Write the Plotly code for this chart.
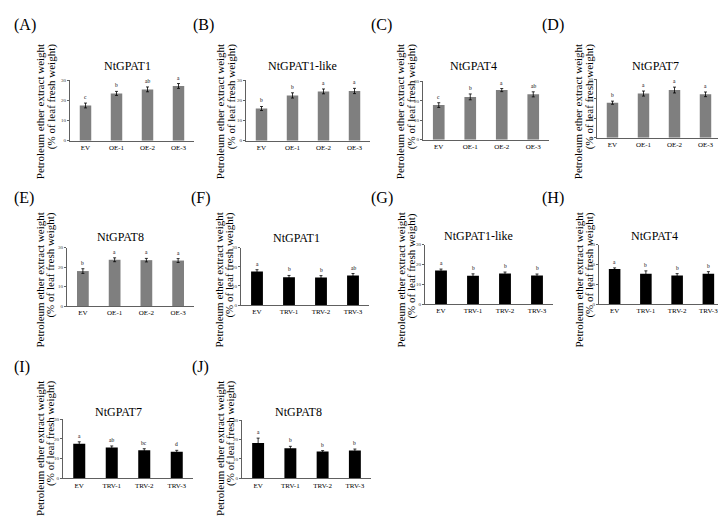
import plotly.graph_objects as go

W, H = 726, 519

oe_groups = ["EV", "OE-1", "OE-2", "OE-3"]
trv_groups = ["EV", "TRV-1", "TRV-2", "TRV-3"]

# overexpression lines (grey bars)
gpat1_oe = [17.5, 23.5, 25.5, 27.2]
gpat1_oe_err = [1.2, 1.0, 1.2, 1.2]
gpat1_oe_sig = ["c", "b", "ab", "a"]

gpat1like_oe = [16.0, 22.5, 24.5, 24.7]
gpat1like_oe_err = [1.0, 1.3, 1.2, 1.3]
gpat1like_oe_sig = ["b", "b", "a", "a"]

gpat4_oe = [17.8, 22.0, 25.5, 23.3]
gpat4_oe_err = [1.2, 1.5, 0.8, 1.3]
gpat4_oe_sig = ["c", "b", "a", "ab"]

gpat7_oe = [18.0, 22.7, 24.5, 22.3]
gpat7_oe_err = [0.8, 1.3, 1.5, 1.2]
gpat7_oe_sig = ["b", "a", "a", "a"]

gpat8_oe = [18.0, 23.8, 23.6, 23.4]
gpat8_oe_err = [1.2, 1.0, 0.9, 1.0]
gpat8_oe_sig = ["b", "a", "a", "a"]

# VIGS silenced lines (black bars)
gpat1_trv = [17.5, 14.5, 14.4, 15.5]
gpat1_trv_err = [1.0, 1.0, 1.0, 1.0]
gpat1_trv_sig = ["a", "b", "b", "ab"]

gpat1like_trv = [17.0, 14.3, 15.5, 14.4]
gpat1like_trv_err = [0.7, 1.0, 0.7, 0.8]
gpat1like_trv_sig = ["a", "b", "b", "b"]

gpat4_trv = [17.8, 15.3, 14.4, 15.4]
gpat4_trv_err = [0.5, 1.5, 1.0, 1.0]
gpat4_trv_sig = ["a", "b", "b", "b"]

gpat7_trv = [17.5, 15.6, 14.2, 13.5]
gpat7_trv_err = [1.0, 0.8, 0.8, 0.7]
gpat7_trv_sig = ["a", "ab", "bc", "d"]

gpat8_trv = [18.2, 15.5, 13.8, 14.3]
gpat8_trv_err = [2.5, 1.0, 0.5, 0.8]
gpat8_trv_sig = ["a", "b", "b", "b"]

y_ticks = [0, 10, 20, 30]

GREY = "#7f7f7f"
BLACK = "#000000"
FONT = "Liberation Serif"

# (label, title, groups, values, errors, letters, colour) + pixel layout
panels = [
    ("(A)", "NtGPAT1", oe_groups, gpat1_oe, gpat1_oe_err, gpat1_oe_sig, GREY,
     dict(x0=62, x1=186, yt=71, yb=132, tx=119, ty=57, lx=4, ly=15, a1=32, a2=43, top=33)),
    ("(B)", "NtGPAT1-like", oe_groups, gpat1like_oe, gpat1like_oe_err, gpat1like_oe_sig, GREY,
     dict(x0=238, x1=362, yt=71, yb=132, tx=294, ty=57, lx=183, ly=15, a1=212, a2=223, top=33)),
    ("(C)", "NtGPAT4", oe_groups, gpat4_oe, gpat4_oe_err, gpat4_oe_sig, GREY,
     dict(x0=415, x1=541, yt=72, yb=131, tx=465, ty=57, lx=361, ly=15, a1=392, a2=403, top=33)),
    ("(D)", "NtGPAT7", oe_groups, gpat7_oe, gpat7_oe_err, gpat7_oe_sig, GREY,
     dict(x0=589, x1=713, yt=70, yb=129, tx=647, ty=57, lx=532, ly=15, a1=570, a2=581, top=33)),
    ("(E)", "NtGPAT8", oe_groups, gpat8_oe, gpat8_oe_err, gpat8_oe_sig, GREY,
     dict(x0=59, x1=186, yt=240, yb=299, tx=112, ty=229, lx=4, ly=190, a1=32, a2=43, top=203)),
    ("(F)", "NtGPAT1", trv_groups, gpat1_trv, gpat1_trv_err, gpat1_trv_sig, BLACK,
     dict(x0=233, x1=361, yt=240, yb=298, tx=288, ty=230, lx=181, ly=190, a1=211, a2=222, top=203)),
    ("(G)", "NtGPAT1-like", trv_groups, gpat1like_trv, gpat1like_trv_err, gpat1like_trv_sig, BLACK,
     dict(x0=417, x1=545, yt=237, yb=297, tx=470, ty=228, lx=361, ly=190, a1=393, a2=404, top=203)),
    ("(H)", "NtGPAT4", trv_groups, gpat4_trv, gpat4_trv_err, gpat4_trv_sig, BLACK,
     dict(x0=591, x1=716, yt=237, yb=297, tx=646, ty=228, lx=532, ly=190, a1=571, a2=582, top=203)),
    ("(I)", "NtGPAT7", trv_groups, gpat7_trv, gpat7_trv_err, gpat7_trv_sig, BLACK,
     dict(x0=55, x1=185, yt=413, yb=473, tx=110, ty=406, lx=4, ly=360, a1=32, a2=43, top=373)),
    ("(J)", "NtGPAT8", trv_groups, gpat8_trv, gpat8_trv_err, gpat8_trv_sig, BLACK,
     dict(x0=234, x1=363, yt=414, yb=473, tx=290, ty=406, lx=182, ly=360, a1=212, a2=223, top=373)),
]


def px_x(v):
    return v / W


def px_y(v):
    return 1 - v / H


fig = go.Figure()
annotations = []

for i, (label, title, groups, vals, errs, sig, color, p) in enumerate(panels):
    n = "" if i == 0 else str(i + 1)
    xa, ya = "x" + n, "y" + n

    fig.add_trace(go.Bar(
        x=groups, y=vals,
        xaxis=xa, yaxis=ya,
        width=0.37,
        marker_color=color,
        marker_line_width=0,
        error_y=dict(type="data", array=errs, color="black", thickness=0.8, width=1.5),
        showlegend=False,
    ))

    fig.layout["xaxis" + n] = dict(
        domain=[px_x(p["x0"]), px_x(p["x1"])],
        anchor=ya,
        showline=True, linecolor="#606060", linewidth=0.8,
        ticks="", showgrid=False,
        tickfont=dict(family=FONT, size=7, color="black"),
        fixedrange=True,
    )
    fig.layout["yaxis" + n] = dict(
        domain=[px_y(p["yb"]), px_y(p["yt"])],
        anchor=xa,
        range=[0, 30],
        tickvals=y_ticks,
        showline=True, linecolor="#606060", linewidth=0.8,
        ticks="outside", ticklen=2, tickcolor="#606060", tickwidth=0.8,
        showgrid=False, zeroline=False,
        tickfont=dict(family=FONT, size=5, color="#333333"),
        fixedrange=True,
    )

    # significance letters above the error bars
    for g, v, e, s in zip(groups, vals, errs, sig):
        annotations.append(dict(
            x=g, y=v + e, xref=xa, yref=ya,
            text=s, showarrow=False, yanchor="bottom", yshift=1,
            font=dict(family=FONT, size=5.5, color="black"),
        ))

    # panel title
    annotations.append(dict(
        x=px_x(p["tx"]), y=px_y(p["ty"]), xref="paper", yref="paper",
        text=title, showarrow=False, xanchor="center", yanchor="middle",
        font=dict(family=FONT, size=12, color="black"),
    ))

    # panel letter
    annotations.append(dict(
        x=px_x(p["lx"]), y=px_y(p["ly"]), xref="paper", yref="paper",
        text=label, showarrow=False, xanchor="left", yanchor="middle",
        font=dict(family=FONT, size=16, color="black"),
    ))

    # y-axis title, two lines aligned at the top
    for ax_x, txt in [(p["a1"], "Petroleum ether extract weight"),
                      (p["a2"], "(% of leaf fresh weight)")]:
        annotations.append(dict(
            x=px_x(ax_x), y=px_y(p["top"]), xref="paper", yref="paper",
            text=txt, showarrow=False, textangle=-90,
            xanchor="center", yanchor="top",
            font=dict(family=FONT, size=11, color="black"),
        ))

fig.update_layout(
    width=W, height=H,
    margin=dict(l=0, r=0, t=0, b=0),
    paper_bgcolor="white", plot_bgcolor="white",
    bargap=0.6,
    annotations=annotations,
)

fig.write_html("out.html")
